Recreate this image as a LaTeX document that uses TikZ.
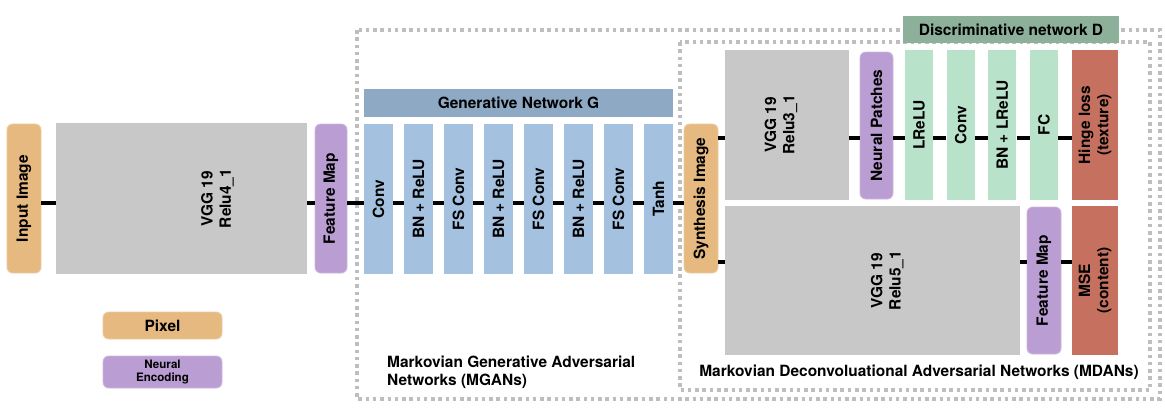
\documentclass[tikz,border=0pt]{standalone}
\usepackage{fontspec}
\setmainfont{TeX Gyre Heros}
\definecolor{mgan_pixel}{RGB}{229,185,128}
\definecolor{mgan_neural}{RGB}{186,157,210}
\definecolor{mgan_vgg}{RGB}{200,200,200}
\definecolor{mgan_gen}{RGB}{164,194,224}
\definecolor{mgan_genbar}{RGB}{141,169,196}
\definecolor{mgan_dis}{RGB}{185,226,203}
\definecolor{mgan_disbar}{RGB}{141,176,154}
\definecolor{mgan_loss}{RGB}{198,112,95}
\definecolor{mgan_dots}{RGB}{190,190,190}
\usetikzlibrary{positioning}

\begin{document}
\begin{tikzpicture}[x=0.03cm, y=-0.03cm,
        blk/.style={rectangle, inner sep=0pt, draw=none},
        sz/.style 2 args={minimum width=#1*0.03cm, minimum height=#2*0.03cm},
        rnd/.style={blk, rounded corners=5pt, line width=0.8pt},
        txt/.style={rotate=90, align=center, inner sep=0pt,
                    font=\fontsize{13.2}{15.5}\selectfont\bfseries},
        hdr/.style={align=center, font=\fontsize{13.2}{15.5}\selectfont\bfseries},
        link/.style={line width=2.7pt, black},
        frame/.style={mgan_dots, line width=3pt, dash pattern=on 3pt off 3.2pt},
      ]
        \useasboundingbox (0,0) rectangle (1165,408);

        % Dotted frames (MGANs and MDANs)
        \draw[frame] (357,30) rectangle (1160,399);
        \draw[frame] (680,42) rectangle (1150,390);

        % Rows of connectors
        \coordinate (rowm) at (0,203);
        \coordinate (rowt) at (0,138);
        \coordinate (rowb) at (0,262);

        % Feature extraction
        \node[rnd, sz={34}{149}, fill=mgan_pixel, draw=mgan_pixel!75!white,
              label={[txt]center:Input Image}] (inp) at (24,198.5) {};
        \node[blk, sz={251}{151}, fill=mgan_vgg,
              label={[txt, yshift=-1.08cm]center:VGG 19\\Relu4\_1}] (vgga) at (181.5,198.5) {};
        \node[rnd, sz={32}{149}, fill=mgan_neural, draw=mgan_neural!75!white,
              label={[txt]center:Feature Map}] (fma) at (331,198.5) {};

        % Generative network G
        \node[blk, sz={309}{28}, fill=mgan_genbar, hdr] (genbar) at (518.5,103)
          {Generative Network G};
        \foreach \i/\t in {0/Conv, 1/BN + ReLU, 2/FS Conv, 3/BN + ReLU,
                           4/FS Conv, 5/BN + ReLU, 6/FS Conv, 7/Tanh}
          \node[blk, sz={29}{150}, fill=mgan_gen, label={[txt]center:\t}]
            (g\i) at (378.5+40*\i,199) {};

        \node[rnd, sz={34}{149}, fill=mgan_pixel, draw=mgan_pixel!75!white,
              label={[txt]center:Synthesis Image}] (syn) at (701,198.5) {};

        % Discriminative network D
        \node[blk, sz={216}{27}, fill=mgan_disbar, hdr] (disbar) at (1011,29.5)
          {Discriminative network D};
        \node[blk, sz={124}{150}, fill=mgan_vgg,
              label={[txt, yshift=0.18cm]center:VGG 19\\Relu3\_1}] (vggb) at (787,125) {};
        \node[rnd, sz={33}{147}, fill=mgan_neural, draw=mgan_neural!75!white,
              label={[txt]center:Neural Patches}] (np) at (876.5,125.5) {};
        \foreach \i/\t in {0/LReLU, 1/Conv, 2/BN + LReLU, 3/FC}
          \node[blk, sz={28}{150}, fill=mgan_dis, label={[txt]center:\t}]
            (d\i) at (919+41.7*\i,125) {};
        \node[blk, sz={46}{150}, fill=mgan_loss,
              label={[txt]center:Hinge loss\\(texture)}] (hinge) at (1095,125) {};

        % Content branch
        \node[blk, sz={295}{149}, fill=mgan_vgg,
              label={[txt, yshift=-0.44cm]center:VGG 19\\Relu5\_1}] (vggc) at (872.5,280.5) {};
        \node[rnd, sz={34}{147}, fill=mgan_neural, draw=mgan_neural!75!white,
              label={[txt]center:Feature Map}] (fmb) at (1044,280.5) {};
        \node[blk, sz={46}{149}, fill=mgan_loss,
              label={[txt]center:MSE\\(content)}] (mse) at (1095,280.5) {};

        % Connectors
        \foreach \a/\b in {inp/vgga, vgga/fma, fma/g0, g0/g1, g1/g2, g2/g3,
                           g3/g4, g4/g5, g5/g6, g6/g7, g7/syn}
          \draw[link] (\a.east |- rowm) -- (\b.west |- rowm);
        \foreach \a/\b in {syn/vggb, vggb/np, np/d0, d0/d1, d1/d2, d2/d3, d3/hinge}
          \draw[link] (\a.east |- rowt) -- (\b.west |- rowt);
        \foreach \a/\b in {syn/vggc, vggc/fmb, fmb/mse}
          \draw[link] (\a.east |- rowb) -- (\b.west |- rowb);

        % Legend
        \node[rnd, sz={119}{27}, fill=mgan_pixel, draw=mgan_pixel!75!white, hdr]
          (legpix) at (162.5,325.5) {Pixel};
        \node[rnd, sz={119}{32}, fill=mgan_neural, draw=mgan_neural!75!white,
              align=center, font=\fontsize{9.9}{10.8}\selectfont\bfseries]
          (legenc) at (162.5,372) {Neural\\Encoding};

        % Frame titles
        \node[hdr, align=left, anchor=west, inner sep=0pt] (mganlbl) at (387,372.5)
          {Markovian Generative Adversarial\\Networks (MGANs)};
        \node[hdr, inner sep=0pt] (mdanlbl) at (919,372)
          {Markovian Deconvoluational Adversarial Networks (MDANs)};
      \end{tikzpicture}
\end{document}
